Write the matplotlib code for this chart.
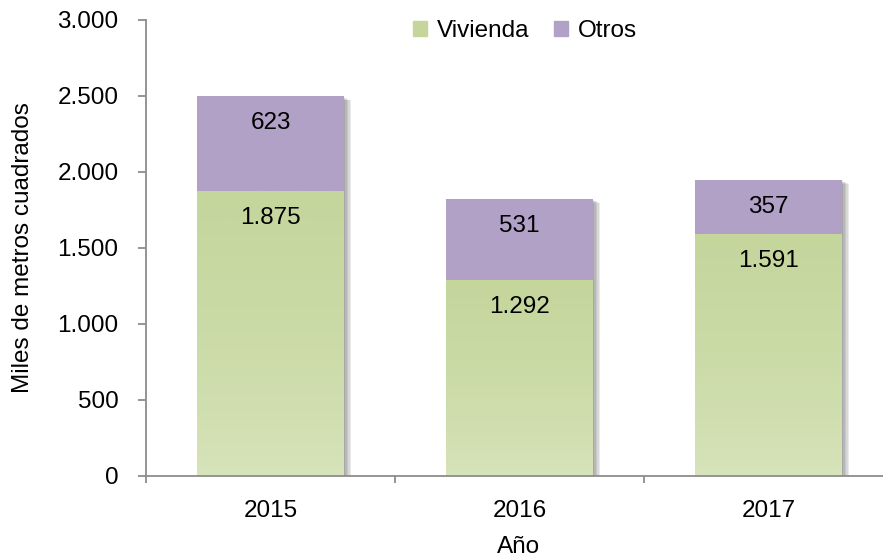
import numpy as np
import matplotlib
matplotlib.use('Agg')
import matplotlib.pyplot as plt
import matplotlib.patheffects as pe
from matplotlib.patches import Patch
from matplotlib.ticker import FuncFormatter
from matplotlib.colors import LinearSegmentedColormap

plt.rcParams['font.family'] = ['Liberation Sans', 'DejaVu Sans']

years = ['2015', '2016', '2017']
vivienda = [1875, 1292, 1591]
otros = [623, 531, 357]

green_top = '#c4d69c'
green_bottom = '#d9e5be'
purple = '#b2a1c7'
axis_gray = '#8c8c8c'
fs = 17.5


def miles(v, pos=None):
    return '{:,.0f}'.format(v).replace(',', '.')


fig = plt.figure(figsize=(8.83, 5.6), dpi=100)
ax = fig.add_axes([146 / 883, 1 - 476 / 560, 747 / 883, 456 / 560])

x = np.arange(len(years))
width = 0.59

shadow = [pe.SimplePatchShadow(offset=(k, -0.6 * k), shadow_rgbFace='#000000', alpha=0.08)
          for k in (1, 2, 3, 4, 5)] + [pe.Normal()]

b1 = ax.bar(x, vivienda, width, color=green_top, zorder=2, path_effects=shadow)
b2 = ax.bar(x, otros, width, bottom=vivienda, color=purple, zorder=2,
            path_effects=shadow)

# gradient on the green bars
cmap = LinearSegmentedColormap.from_list('g', [green_bottom, green_top])
for rect in b1:
    x0 = rect.get_x()
    h = rect.get_height()
    grad = np.linspace(0, 1, 256) ** 0.6
    grad = grad.reshape(-1, 1)
    im = ax.imshow(grad, cmap=cmap, extent=[x0, x0 + width, 0, h], origin='lower',
                   aspect='auto', zorder=2.5, vmin=0, vmax=1)
    im.set_clip_path(rect)

# labels near the top of each segment
for i in range(len(years)):
    ax.annotate(miles(vivienda[i]), (x[i], vivienda[i]), xytext=(0, -19.5),
                textcoords='offset points', ha='center', va='center', fontsize=fs, zorder=5)
    ax.annotate(miles(otros[i]), (x[i], vivienda[i] + otros[i]), xytext=(0, -19.5),
                textcoords='offset points', ha='center', va='center', fontsize=fs, zorder=5)

ax.set_xlim(-0.5, 2.5)
ax.set_ylim(0, 3000)
ax.set_yticks(np.arange(0, 3001, 500))
ax.yaxis.set_major_formatter(FuncFormatter(miles))

ax.set_xticks(x)
ax.set_xticklabels(years)
ax.set_xticks([-0.5, 0.5, 1.5, 2.5], minor=True)
ax.tick_params(axis='x', which='major', length=0, pad=17, labelsize=fs)
ax.tick_params(axis='x', which='minor', length=5, width=1.3, color=axis_gray, direction='out')
ax.tick_params(axis='y', length=5.8, width=1.3, color=axis_gray, direction='out',
               pad=14, labelsize=fs)

for s in ['top', 'right']:
    ax.spines[s].set_visible(False)
for s in ['left', 'bottom']:
    ax.spines[s].set_color(axis_gray)
    ax.spines[s].set_linewidth(1.3)

ax.set_xlabel('Año', fontsize=fs)
ax.xaxis.set_label_coords(519 / 883, 1 - 536 / 560, transform=fig.transFigure)
ax.set_ylabel('Miles de metros cuadrados', fontsize=fs)
ax.yaxis.set_label_coords(34 / 883, 1 - 248 / 560, transform=fig.transFigure)

handles = [Patch(color=green_top), Patch(color=purple)]
ax.legend(handles=handles, labels=['Vivienda', 'Otros'], ncol=2, frameon=False,
          loc='center', bbox_to_anchor=(525 / 883, 1 - 31 / 560),
          bbox_transform=fig.transFigure, fontsize=fs, handlelength=0.6,
          handleheight=0.6, handletextpad=0.4, columnspacing=1.0)

fig.savefig('out.png', dpi=100)
